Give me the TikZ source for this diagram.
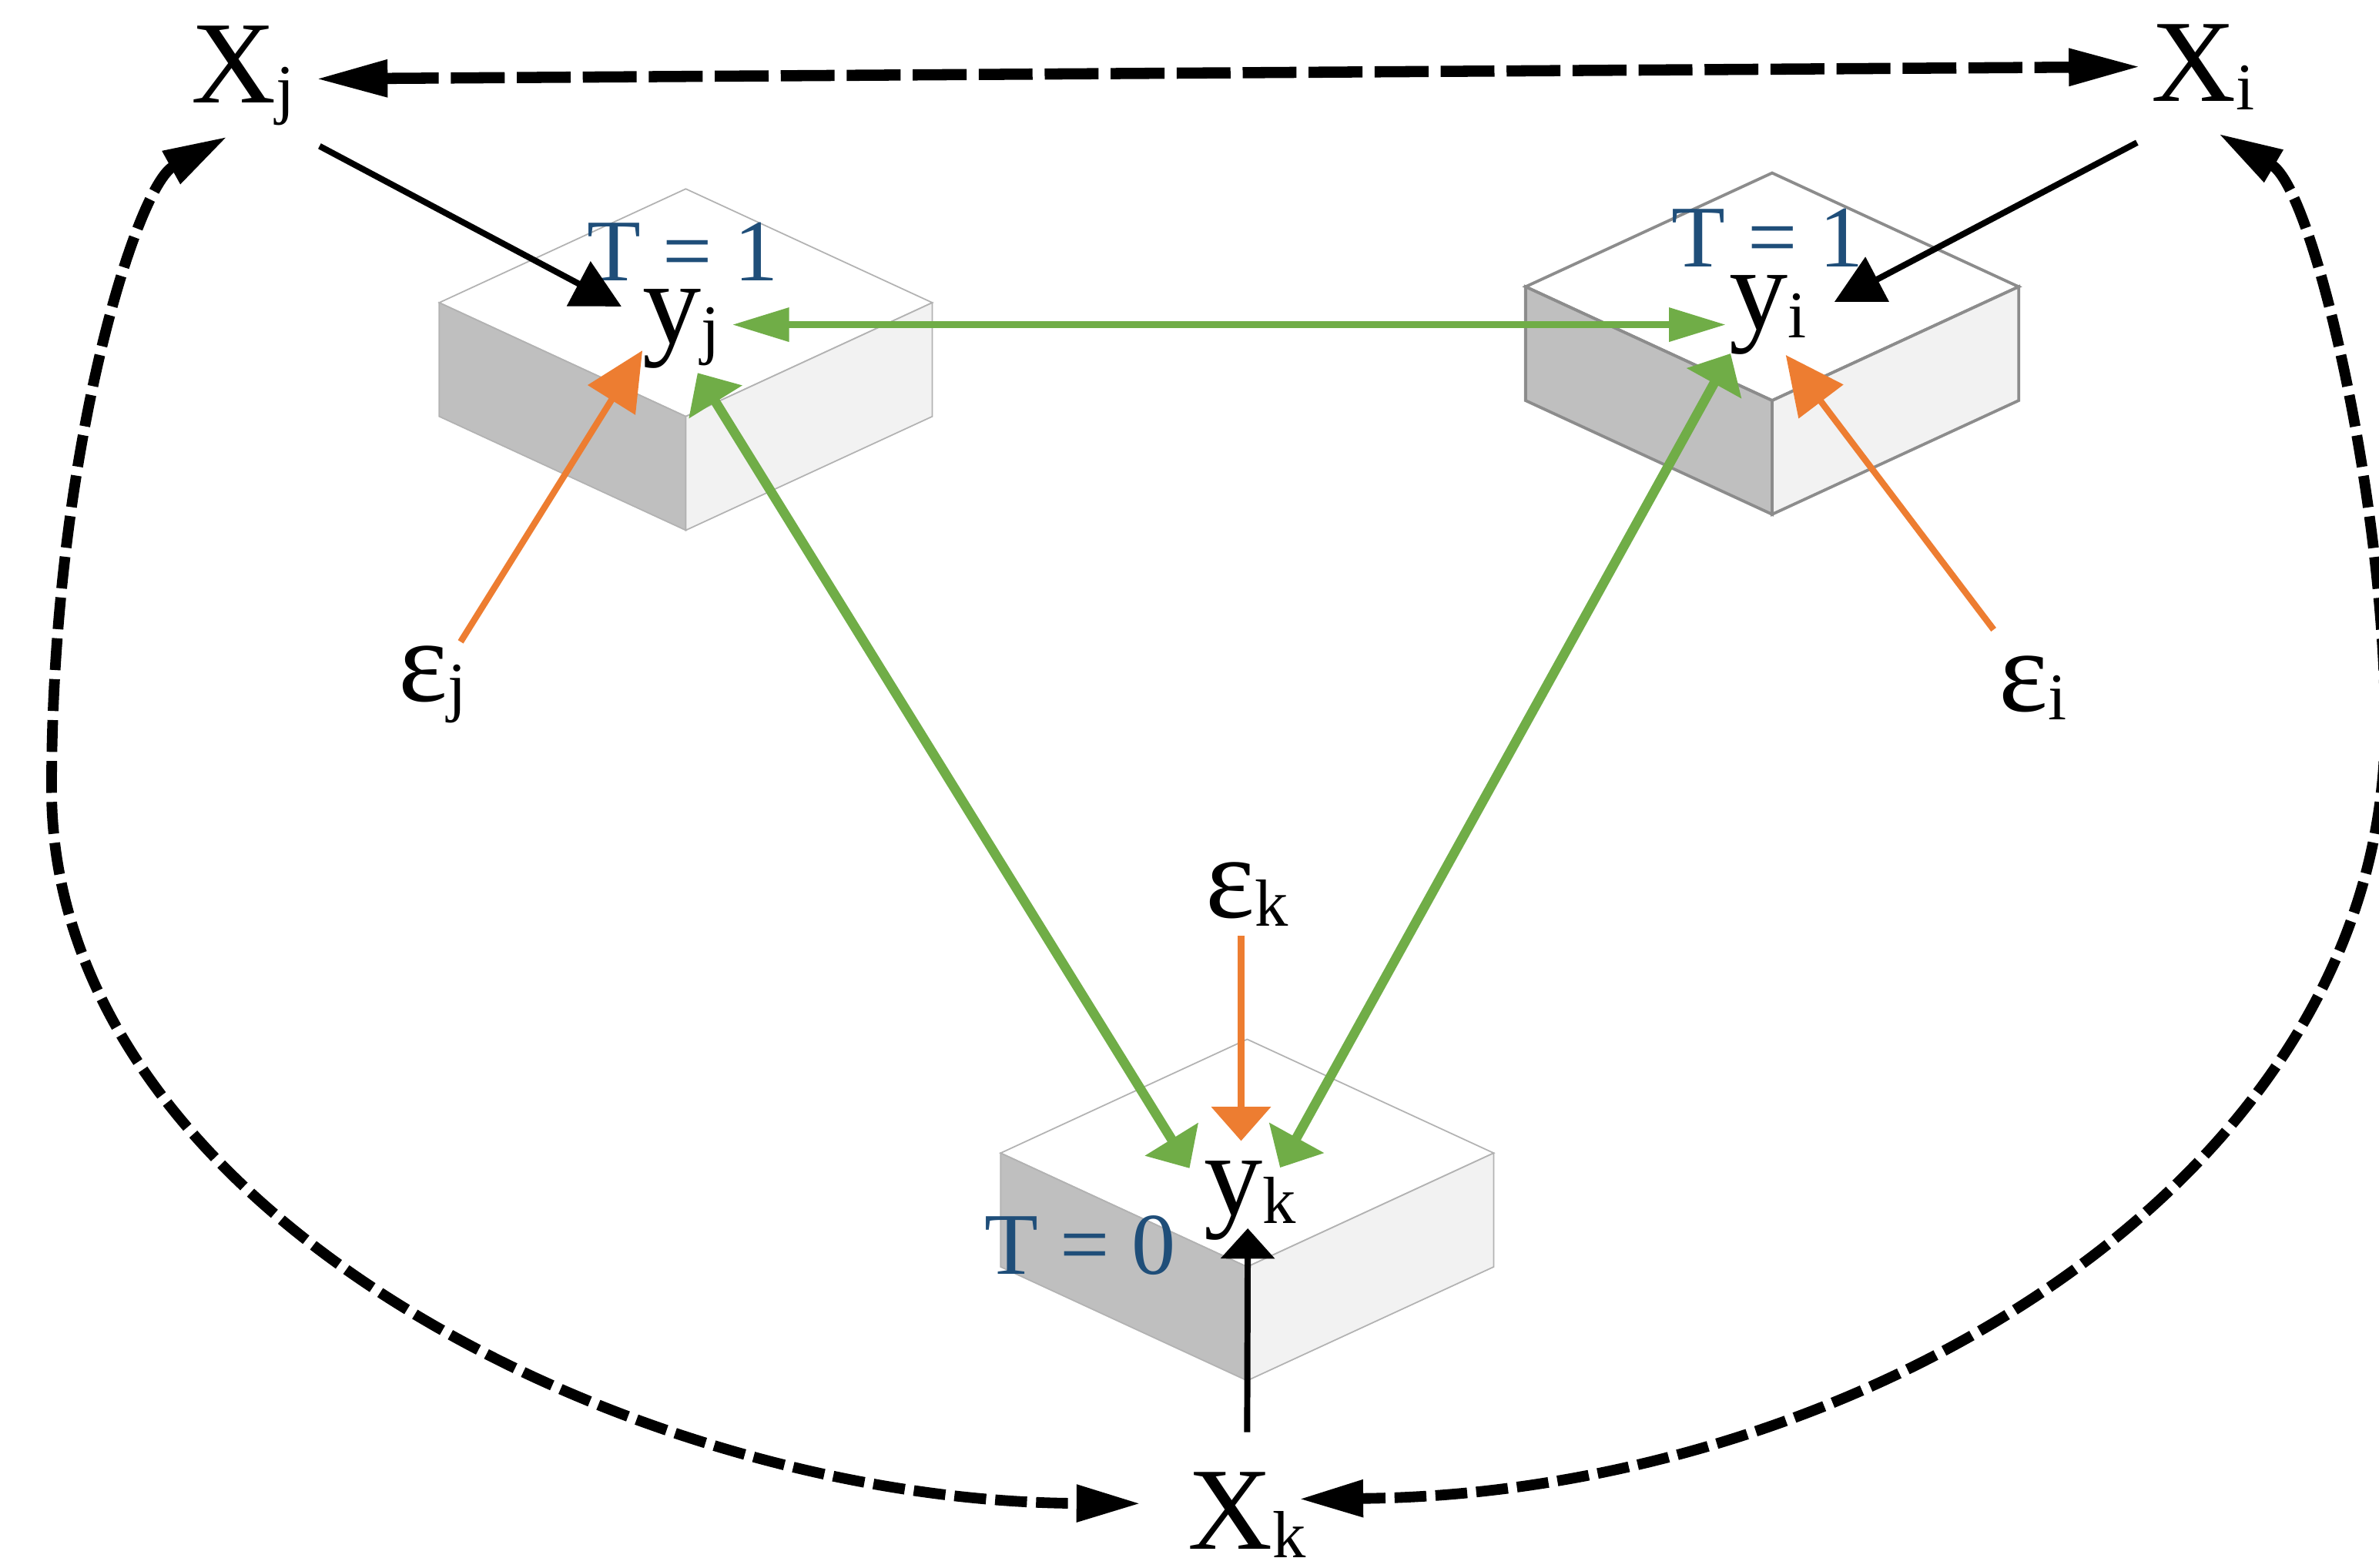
\documentclass[tikz,border=0pt]{standalone}
\usepackage{fontspec}
\setmainfont{Liberation Serif}
\usetikzlibrary{arrows.meta,calc}

\definecolor{tblue}{HTML}{1F4E79}
\definecolor{eorange}{HTML}{ED7D31}
\definecolor{lgreen}{HTML}{70AD47}
\newcommand{\subs}[1]{\raisebox{-0.11cm}{\fontsize{25}{25}\selectfont #1}}

\begin{document}
\begin{tikzpicture}[
  x=0.02cm, y=-0.02cm,
  var/.style={inner sep=0pt,anchor=base,font=\fontsize{44}{44}\selectfont},
  treat/.style={inner sep=0pt,anchor=base,text=tblue,font=\fontsize{33}{33}\selectfont},
  link/.style={line width=2.3pt,-{Triangle[length=0.64cm,width=0.65cm]}},
  noise/.style={eorange,line width=2.4pt,-{Triangle[length=0.77cm,width=0.72cm]}},
  spill/.style={lgreen,line width=3.6pt,{Triangle[length=0.45cm,width=0.8cm]}-{Triangle[length=0.45cm,width=0.8cm]}},
  corr/.style={line width=4pt,dash pattern=on 0.42cm off 0.12cm,{Triangle[length=0.85cm,width=0.46cm]}-{Triangle[length=0.85cm,width=0.46cm]}}
]
  \useasboundingbox (0,0) rectangle (1568,1033);
  \clip (0,0) rectangle (1568,1033);

  % the three units
  \foreach \cx/\cy/\edge/\ew in {452/199.5/black!30/0.5pt, 1168/189/black!45/1.1pt, 822/760/black!30/0.5pt} {
    \filldraw[fill=white,draw=\edge,line width=\ew] ({\cx},{\cy-75}) -- ({\cx+162.5},{\cy}) -- ({\cx},{\cy+75}) -- ({\cx-162.5},{\cy}) -- cycle;
    \filldraw[fill=black!25,draw=\edge,line width=\ew] ({\cx-162.5},{\cy}) -- ({\cx},{\cy+75}) -- ({\cx},{\cy+150}) -- ({\cx-162.5},{\cy+75}) -- cycle;
    \filldraw[fill=black!5,draw=\edge,line width=\ew] ({\cx+162.5},{\cy}) -- ({\cx},{\cy+75}) -- ({\cx},{\cy+150}) -- ({\cx+162.5},{\cy+75}) -- cycle;
  }

  \node[var] (Xj) at (160,68) {X\subs{j}};
  \node[var] (Xi) at (1452,67) {X\subs{i}};
  \node[var] (Xk) at (822,1021) {X\subs{k}};
  \node[var] (yj) at (449,226) {y\subs{j}};
  \node[var] (yi) at (1165,217) {y\subs{i}};
  \node[var] (yk) at (824,801) {y\subs{k}};
  \node[var] (ej) at (285,462) {ε\subs{j}};
  \node[var] (ei) at (1340,469) {ε\subs{i}};
  \node[var] (ek) at (822,605) {ε\subs{k}};
  \node[treat] (tj) at (450,185) {T = 1};
  \node[treat] (ti) at (1165,176) {T = 1};
  \node[treat] (tk) at (712,840) {T = 0};

  % covariates
  \draw[link] ($(Xj.base)+(50.6,28.3)$) -- ($(yj.base)+(-39.4,-24)$);
  \draw[link] ($(Xi.base)+(-43.5,27)$) -- ($(yi.base)+(44,-18)$);
  \draw[link,-{Triangle[length=0.4cm,width=0.7cm]}] ($(Xk.base)+(0,-77)$) -- ($(yk.base)+(-1.6,8.6)$);

  % errors
  \draw[noise] ($(ej.base)+(18.6,-39)$) -- ($(yj.base)+(-25.6,5)$);
  \draw[noise] ($(ei.base)+(-26,-54)$) -- ($(yi.base)+(12,17)$);
  \draw[noise,-{Triangle[length=0.45cm,width=0.77cm]}] ($(ek.base)+(-4,11.5)$) -- ($(yk.base)+(-6,-49)$);

  % spillover
  \draw[spill,line width=2.6pt,{Triangle[length=0.75cm,width=0.43cm]}-{Triangle[length=0.75cm,width=0.43cm]}] ($(yj.base)+(33.6,-12)$) -- ($(yi.base)+(-27.5,-3)$);
  \draw[spill] ($(yj.base)+(10.8,19.8)$) -- ($(yk.base)+(-40,-31)$);
  \draw[spill] ($(yi.base)+(-24.4,16)$) -- ($(yk.base)+(19.7,-31.4)$);

  % correlated covariates
  \draw[corr,line width=4.2pt,dash pattern=on 0.71cm off 0.16cm,{Triangle[length=0.95cm,width=0.46cm]}-{Triangle[length=0.95cm,width=0.46cm]}] ($(Xj.base)+(48,-16)$) -- ($(Xi.base)+(-41,-23)$);
  \draw[corr] ($(Xj.base)+(-10,22)$) .. controls (90,123) and (34,300) .. (34,520) .. controls (34,800) and (420,990) .. ($(Xk.base)+(-70,-30)$);
  \draw[corr] ($(Xi.base)+(10,21)$) .. controls (1525,125) and (1572,330) .. (1572,478) .. controls (1572,780) and (1220,985) .. ($(Xk.base)+(34,-33)$);
\end{tikzpicture}
\end{document}
